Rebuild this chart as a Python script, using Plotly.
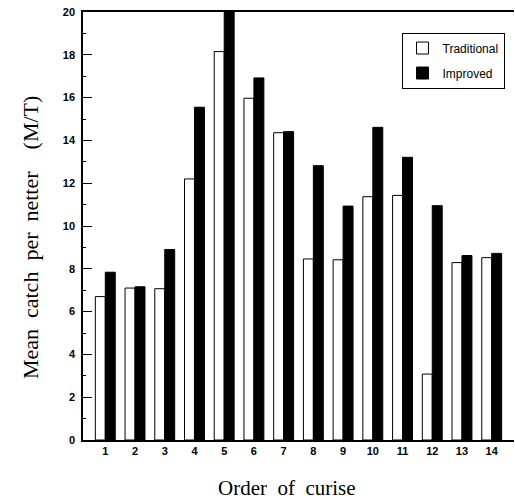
import plotly.graph_objects as go

cruise = list(range(1, 15))
cruise_labels = [str(c) for c in cruise]
traditional = [6.70, 7.10, 7.07, 12.2, 18.15, 15.97, 14.36, 8.46, 8.42, 11.37, 11.43, 3.08, 8.29, 8.52]
improved = [7.84, 7.16, 8.90, 15.55, 20.0, 16.92, 14.41, 12.82, 10.93, 14.61, 13.21, 10.95, 8.62, 8.72]
y_ticks = [0, 2, 4, 6, 8, 10, 12, 14, 16, 18, 20]
x_title = "Order\u00a0 of\u00a0 curise"
y_title = "Mean\u00a0 catch\u00a0 per\u00a0 netter\u00a0\u00a0\u00a0 (M/T)"

fig = go.Figure()
fig.add_trace(go.Bar(
    x=cruise, y=traditional, name="Traditional", legendgroup="a",
    marker=dict(color="white", line=dict(color="black", width=1)),
))
fig.add_trace(go.Bar(
    x=cruise, y=improved, name="Improved", legendgroup="b",
    marker=dict(color="black", line=dict(color="black", width=1)),
))

serif_x = dict(family="Liberation Serif, Times New Roman", size=21, color="black")
serif_y = dict(family="Liberation Serif, Times New Roman", size=22, color="black")

fig.update_layout(
    width=515, height=502,
    margin=dict(l=83, r=1, t=12, b=62),
    paper_bgcolor="white", plot_bgcolor="white",
    barmode="group", bargap=0.33, bargroupgap=0.0,
    showlegend=True,
    legend=dict(
        x=0.739, y=0.952, xanchor="left", yanchor="top",
        bordercolor="black", borderwidth=1, bgcolor="white",
        font=dict(family="Liberation Sans, Arial", size=12, color="black"),
        tracegroupgap=6, itemwidth=30,
    ),
    font=dict(family="Liberation Sans, Arial", color="black"),
    annotations=[
        dict(text=x_title, xref="paper", yref="paper", x=0.473, y=-0.112,
             xanchor="center", yanchor="middle", showarrow=False, font=serif_x),
        dict(text=y_title, xref="paper", yref="paper", x=-0.123, y=0.474,
             xanchor="center", yanchor="middle", textangle=-90, showarrow=False, font=serif_y),
    ],
)
fig.update_xaxes(
    range=[0.25, 14.75],
    tickmode="array", tickvals=cruise, ticktext=cruise_labels,
    ticks="", showgrid=False, zeroline=False,
    showline=True, linecolor="black", linewidth=1.5, mirror=True,
    tickfont=dict(family="Liberation Sans, Arial", size=11, color="black", weight="bold"),
)
fig.update_yaxes(
    range=[0, 20],
    tickmode="array", tickvals=y_ticks,
    ticks="inside", ticklen=9, tickwidth=1.2, tickcolor="black",
    minor=dict(tickmode="linear", tick0=1, dtick=2, ticks="inside", ticklen=3, tickcolor="black"),
    showgrid=False, zeroline=False,
    showline=True, linecolor="black", linewidth=1.5,
    ticklabelstandoff=4,
    tickfont=dict(family="Liberation Sans, Arial", size=11, color="black", weight="bold"),
)

fig.write_html("out.html")
